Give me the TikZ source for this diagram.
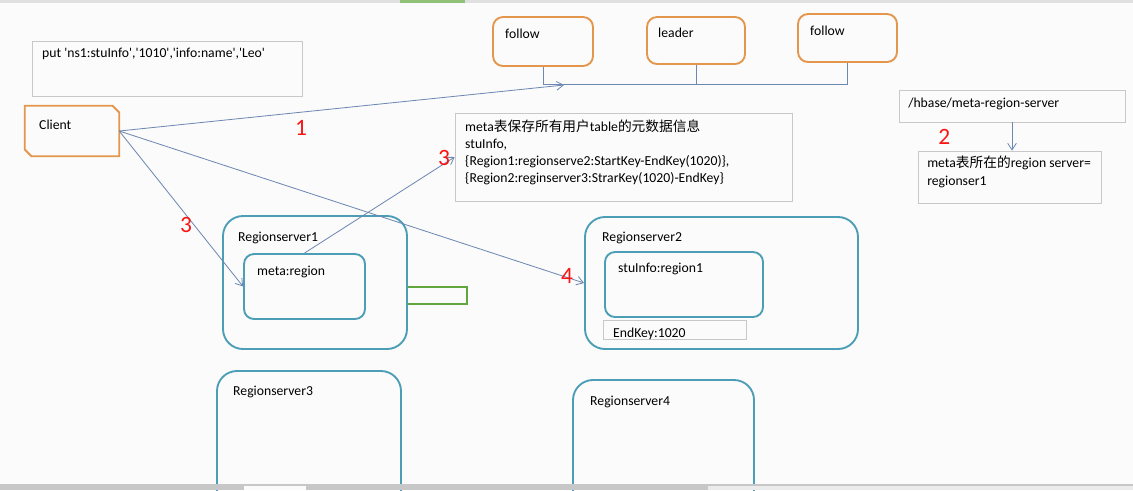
\documentclass[tikz,border=0pt]{standalone}
\usepackage{fontspec}
\setmainfont{Carlito}
\newfontfamily\cjk{Noto Sans CJK SC}
\usetikzlibrary{arrows.meta,fit}
\definecolor{zkorange}{RGB}{228,150,76}
\definecolor{rsteal}{RGB}{76,158,182}
\definecolor{notegray}{RGB}{200,200,200}
\definecolor{linkblue}{RGB}{110,136,178}
\definecolor{stepred}{RGB}{250,20,20}
\definecolor{markgreen}{RGB}{98,166,62}
\definecolor{paper}{RGB}{250,251,250}
\newcommand{\zh}[1]{{\cjk #1}}
\newcommand{\sq}{\textquotesingle}

\begin{document}
\begin{tikzpicture}[x=0.03cm,y=-0.03cm,
  every node/.style={font=\fontsize{11.7}{14}\selectfont,inner sep=0pt},
  txt/.style={anchor=base west},
  stepnum/.style={anchor=base west,text=stepred,font=\fontsize{20}{20}\selectfont},
  zkbox/.style={draw=zkorange,line width=1.6pt,rounded corners=0.3cm},
  notebox/.style={draw=notegray,line width=0.6pt},
  rsbox/.style={draw=rsteal,line width=1.6pt,rounded corners=0.6cm},
  regbox/.style={draw=rsteal,line width=1.6pt,rounded corners=0.3cm},
  link/.style={draw=linkblue,line width=0.7pt},
  flow/.style={link,-{Straight Barb[length=2mm,width=2.6mm]}}]
\fill[paper] (0,0) rectangle (1133,490);
\useasboundingbox (0,0) rectangle (1133,490);

% client and the command
\node[notebox,fit={(32,41) (302,96)}] (putbox) {};
\node[txt] (puttxt) at (42,57) {put \sq ns1:stuInfo\sq,\sq 1010\sq,\sq info:name\sq,\sq Leo\sq};
\node[fit={(25,106) (119,156)}] (client) {};
\draw[draw=zkorange,line width=1.6pt] ([xshift=-0.2cm]client.north east) -- ([yshift=-0.2cm]client.north east)
  -- (client.south east) -- ([xshift=0.2cm]client.south west) -- ([yshift=0.2cm]client.south west)
  -- (client.north west) -- cycle;
\node[txt] (clienttxt) at (39,129) {Client};

% zookeeper
\node[zkbox,fit={(493,17) (593,66)}] (follow1) {};
\node[txt] (follow1txt) at (505,38) {follow};
\node[zkbox,fit={(647,17) (745,64)}] (leader) {};
\node[txt] (leadertxt) at (658,37) {leader};
\node[zkbox,fit={(798,14) (897,62)}] (follow2) {};
\node[txt] (follow2txt) at (810,35) {follow};
\coordinate (busL) at (follow1.south |- 0,84);
\coordinate (busR) at (follow2.south |- 0,84);
\coordinate (busin) at (564,85);
\draw[link] (follow1.south) -- (busL) -- (busR) -- (follow2.south);
\draw[link] (leader.south) -- (leader.south |- busL);

% meta table content
\node[notebox,fit={(455,113) (792,201)}] (metainfo) {};
\node[txt] (metaline1) at (465,131) {meta\zh{表保存所有用户}table\zh{的元数据信息}};
\node[txt] (metaline2) at (465,148) {stuInfo,};
\node[txt] (metaline3) at (465,165) {\{Region1:regionserve2:StartKey-EndKey(1020)\},};
\node[txt] (metaline4) at (465,182) {\{Region2:reginserver3:StrarKey(1020)-EndKey\}};

% znode
\node[notebox,fit={(899,90) (1125,122)}] (hbase) {};
\node[txt] (hbasetxt) at (908,107) {/hbase/meta-region-server};
\node[notebox,fit={(918,151) (1101,203)}] (metars) {};
\node[txt] (metars1) at (927,167) {meta\zh{表所在的}region server=};
\node[txt] (metars2) at (927,185) {regionser1};

% region servers
\node[rsbox,fit={(223,216) (407,349)}] (rs1) {};
\node[txt] (rs1txt) at (238,241) {Regionserver1};
\node[regbox,fit={(244,254) (365,319)}] (metareg) {};
\node[txt] (metaregtxt) at (257,275) {meta:region};
\draw[markgreen,line width=2.2pt] (rs1.east |- 0,287) -- (467,287) -- (467,304) -- (rs1.east |- 0,304);

\node[rsbox,fit={(585,217) (858,349)}] (rs2) {};
\node[txt] (rs2txt) at (602,241) {Regionserver2};
\node[regbox,fit={(605,252) (763,317)}] (stureg) {};
\node[txt] (sturegtxt) at (618,272) {stuInfo:region1};
\node[notebox,fit={(603,320) (746,339)}] (endkey) {};
\node[txt] (endkeytxt) at (613,337) {EndKey:1020};

\node[rsbox,fit={(217,371) (401,530)}] (rs3) {};
\node[txt] (rs3txt) at (233,395) {Regionserver3};
\node[rsbox,fit={(573,380) (754,530)}] (rs4) {};
\node[txt] (rs4txt) at (590,405) {Regionserver4};

% request flow
\draw[flow] (client.east) -- (busin);
\draw[flow] (hbase.south) -- (hbase.south |- metars.north);
\draw[flow] (client.east) -- (metareg.west);
\draw[flow] (metareg.north) -- (metainfo.west);
\draw[flow] (client.east) -- (rs2.west);
\node[stepnum] (num1) at (295,135) {1};
\node[stepnum] (num2) at (938,144) {2};
\node[stepnum] (num3a) at (438,165) {3};
\node[stepnum] (num3b) at (180,232) {3};
\node[stepnum] (num4) at (561,283) {4};

% window edges
\fill[black!12] (0,0) rectangle (1133,3);
\fill[markgreen!70] (400,0) rectangle (465,3);
\fill[black!22] (0,484) rectangle (1133,490);
\fill[paper] (244,486) rectangle (306,490);
\fill[black!8] (708,486) rectangle (1133,490);
\end{tikzpicture}
\end{document}
